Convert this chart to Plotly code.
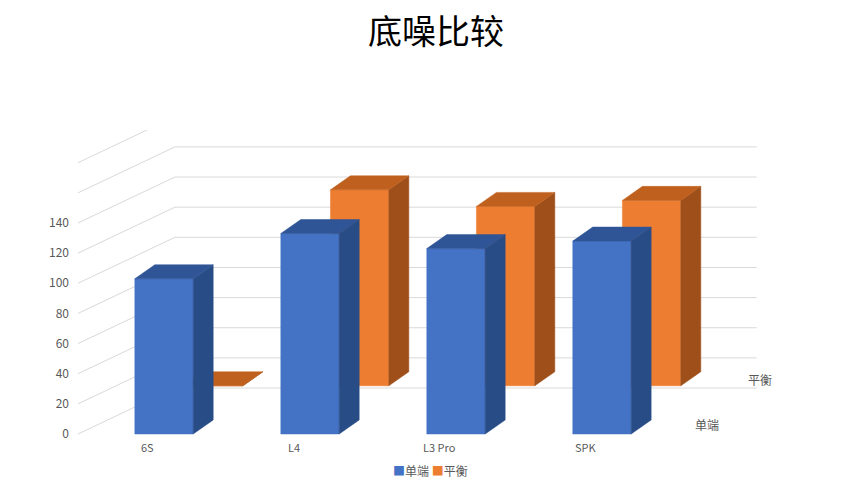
import plotly.graph_objects as go

categories = ["6S", "L4", "L3 Pro", "SPK"]
single_ended = [103, 133, 123, 128]   # 单端
balanced = [0, 130, 119, 123]         # 平衡
series_names = ["单端", "平衡"]
y_ticks = [0, 20, 40, 60, 80, 100, 120, 140]

# simple oblique projection (category units, value units)
bar_w = 0.40
depth_dx, depth_dy = 0.137, 9.3        # thickness of a bar
row_dx, row_dy = 0.34, 32.0            # shift from front row to back row
wall_dx, wall_dy = 0.664, 30.5         # front edge to back wall
left_x = -0.589

front = {"单端": ("#4472C4", "#2F5597", "#284C86"),
         "平衡": ("#ED7D31", "#C0601E", "#9E4F1A")}

fig = go.Figure()

# back wall / side wall grid
for v in range(0, 200, 20):
    xs = [left_x, left_x + wall_dx, 4.06]
    ys = [v, v + wall_dy, v + wall_dy]
    fig.add_trace(go.Scatter(x=xs, y=ys, mode="lines", line=dict(color="#d9d9d9", width=1),
                             hoverinfo="skip", showlegend=False))


def add_bar(c, v, s, colors):
    x0 = c + s * row_dx - bar_w / 2
    x1 = x0 + bar_w
    b = s * row_dy
    t = b + v
    face, top, side = colors
    polys = [
        ([x0, x1, x1, x0], [b, b, t, t], face),
        ([x1, x1 + depth_dx, x1 + depth_dx, x1], [b, b + depth_dy, t + depth_dy, t], side),
        ([x0, x1, x1 + depth_dx, x0 + depth_dx], [t, t, t + depth_dy, t + depth_dy], top),
    ]
    for xs, ys, col in polys:
        fig.add_trace(go.Scatter(x=xs + [xs[0]], y=ys + [ys[0]], mode="lines", fill="toself",
                                 fillcolor=col, line=dict(color=col, width=0.5),
                                 hoverinfo="skip", showlegend=False))


for i in range(len(categories)):
    add_bar(i, balanced[i], 1, front["平衡"])
for i in range(len(categories)):
    add_bar(i, single_ended[i], 0, front["单端"])

for i, cat in enumerate(categories):
    fig.add_annotation(x=i - 0.11, y=0.01, yref="paper", text=cat, showarrow=False,
                       yanchor="top", font=dict(size=11, color="#595959"))
fig.add_annotation(x=4.08, y=36, text="平衡", showarrow=False, font=dict(size=12, color="#595959"))
fig.add_annotation(x=3.72, y=6, text="单端", showarrow=False, font=dict(size=12, color="#595959"))

# legend
legend_text = " ".join(
    f"<span style='color:{front[n][0]}'>■</span>{n}" for n in series_names)
fig.add_annotation(x=0.5, xref="paper", y=-0.065, yref="paper", text=legend_text,
                   showarrow=False, yanchor="top", font=dict(size=12, color="#595959"))

fig.update_layout(
    width=856, height=485, showlegend=False,
    margin=dict(l=62, r=74, t=122, b=53, autoexpand=False),
    paper_bgcolor="white", plot_bgcolor="white",
    font=dict(family="Noto Sans CJK SC", color="#595959"),
    title=dict(text="底噪比较", x=0.5, y=0.975, xanchor="center", yanchor="top",
               font=dict(size=34, color="#000000")),
    xaxis=dict(range=[-0.644, 4.288], visible=False),
    yaxis=dict(range=[-3.98, 201.7], tickvals=y_ticks, showgrid=False, zeroline=False,
               showline=False, ticks="", tickfont=dict(size=12, color="#595959")),
)

fig.write_html("out.html")
